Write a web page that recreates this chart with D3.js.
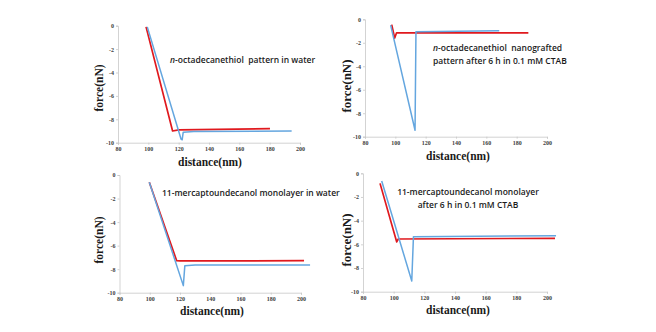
<!DOCTYPE html>
<html>
<head>
<meta charset="utf-8">
<script src="https://cdn.jsdelivr.net/npm/d3@7"></script>
<style>
  body { margin: 0; background: #fff; }
  svg { display: block; }
  .ttl { white-space: pre; }
</style>
</head>
<body>
<div class="chart"></div>
<script>
// force curves, [distance nm, force nN]
const redWater = [[98.5, -0.1], [116, -9.0], [120, -8.9], [180.2, -8.8]]
const blueWater = [[99.3, -0.1], [121.6, -9.7], [122.3, -9.75], [123, -9.1], [130, -9.05], [194.5, -9.0]]

const redCtab = [[97.6, -0.45], [99.6, -1.6], [100.8, -1.15], [187.7, -1.15]]
const blueCtab = [[96.9, -0.5], [113, -9.45], [113.6, -1.05], [168.5, -0.97]]

const redMuaWater = [[99.7, -0.62], [117.8, -7.28], [120, -7.3], [202, -7.28]]
const blueMuaWater = [[99.7, -0.62], [122.2, -9.4], [123.2, -7.7], [130, -7.65], [206, -7.65]]

const redMuaCtab = [[91.1, -0.85], [102, -5.8], [103, -5.55], [205.2, -5.49]]
const blueMuaCtab = [[92.2, -0.65], [111.8, -9.1], [112.9, -5.35], [205.9, -5.27]]

const xTicks = [80, 100, 120, 140, 160, 180, 200]
const yTicks = [0, -2, -4, -6, -8, -10]

const titles = [
  [["n", "-octadecanethiol  pattern in water"]],
  [["n", "-octadecanethiol  nanografted"], ["", "pattern after 6 h in 0.1 mM CTAB"]],
  [["", "11-mercaptoundecanol monolayer in water"]],
  [["", "11-mercaptoundecanol monolayer"], ["", "after 6 h in 0.1 mM CTAB"]]
]

const width = 656
const height = 332

// pixel frame of each small chart
const panels = [
  {left: 118, right: 300, top: 25.7, bottom: 142.7, red: redWater, blue: blueWater,
   title: {x: 170, y: 63, anchor: "start"}, yLab: {x: 100, y: 88, size: 11.5}, xLab: {x: 210, y: 163}},
  {left: 365, right: 547, top: 19.3, bottom: 136.7, red: redCtab, blue: blueCtab,
   title: {x: 433, y: 51, anchor: "start"}, yLab: {x: 348, y: 86, size: 13}, xLab: {x: 458, y: 157}},
  {left: 119.5, right: 301, top: 175, bottom: 292.7, red: redMuaWater, blue: blueMuaWater,
   title: {x: 162, y: 196, anchor: "start"}, yLab: {x: 100, y: 240, size: 11.5}, xLab: {x: 212, y: 312}},
  {left: 363, right: 547, top: 173.3, bottom: 291.7, red: redMuaCtab, blue: blueMuaCtab,
   title: {x: 468, y: 195, anchor: "middle"}, yLab: {x: 348, y: 240, size: 13}, xLab: {x: 458, y: 311}}
]

const svg = d3.select('.chart')
  .append('svg')
  .attr("width", width)
  .attr("height", height)

panels.forEach((p, i) => {
  const x = d3.scaleLinear().domain([80, 200]).range([p.left, p.right])
  const y = d3.scaleLinear().domain([0, -10]).range([p.top, p.bottom])
  const g = svg.append("g")

  const xAxis = g.append("g")
    .attr("transform", `translate(0,${p.bottom})`)
    .call(d3.axisBottom(x).tickValues(xTicks).tickSize(2).tickPadding(2).tickFormat(d => String(d)))
  const yAxis = g.append("g")
    .attr("transform", `translate(${p.left},0)`)
    .call(d3.axisLeft(y).tickValues(yTicks).tickSize(2).tickPadding(2).tickFormat(d => String(d)))

  ;[xAxis, yAxis].forEach(a => {
    a.select(".domain").attr("stroke", "#c8c8c8").attr("stroke-width", 0.8)
    a.selectAll(".tick line").attr("stroke", "#c8c8c8").attr("stroke-width", 0.8)
    a.selectAll(".tick text")
      .attr("fill", "#404040")
      .attr("font-family", "Liberation Serif, serif")
      .attr("font-weight", "bold")
      .attr("font-size", 6)
  })

  const line = d3.line().x(d => x(d[0])).y(d => y(d[1]))

  g.append("path")
    .datum(p.red)
    .attr("d", line)
    .attr("fill", "none")
    .attr("stroke", "#e0191e")
    .attr("stroke-width", 1.7)
    .attr("stroke-linejoin", "round")

  g.append("path")
    .datum(p.blue)
    .attr("d", line)
    .attr("fill", "none")
    .attr("stroke", "#64a6df")
    .attr("stroke-width", 1.5)
    .attr("stroke-linejoin", "round")

  // axis titles
  g.append("text")
    .attr("transform", `translate(${p.yLab.x},${p.yLab.y}) rotate(-90)`)
    .attr("text-anchor", "middle")
    .attr("dominant-baseline", "middle")
    .attr("font-family", "Liberation Serif, serif")
    .attr("font-weight", "bold")
    .attr("font-size", p.yLab.size)
    .attr("fill", "#1a1a1a")
    .text("force(nN)")

  g.append("text")
    .attr("x", p.xLab.x)
    .attr("y", p.xLab.y)
    .attr("text-anchor", "middle")
    .attr("dominant-baseline", "middle")
    .attr("font-family", "Liberation Serif, serif")
    .attr("font-weight", "bold")
    .attr("font-size", 11.5)
    .attr("fill", "#1a1a1a")
    .text("distance(nm)")

  const t = g.append("text")
    .attr("class", "ttl")
    .attr("x", p.title.x)
    .attr("y", p.title.y)
    .attr("text-anchor", p.title.anchor)
    .attr("font-family", "Open Sans, sans-serif")
    .attr("font-weight", 600)
    .attr("font-size", 8.5)
    .attr("fill", "#1a1a1a")

  titles[i].forEach((ln, k) => {
    const row = t.append("tspan")
      .attr("x", p.title.x)
      .attr("dy", k === 0 ? 0 : 13)
    if (ln[0]) row.append("tspan").attr("font-style", "italic").text(ln[0])
    row.append("tspan").text(ln[1])
  })
})
</script>
</body>
</html>
